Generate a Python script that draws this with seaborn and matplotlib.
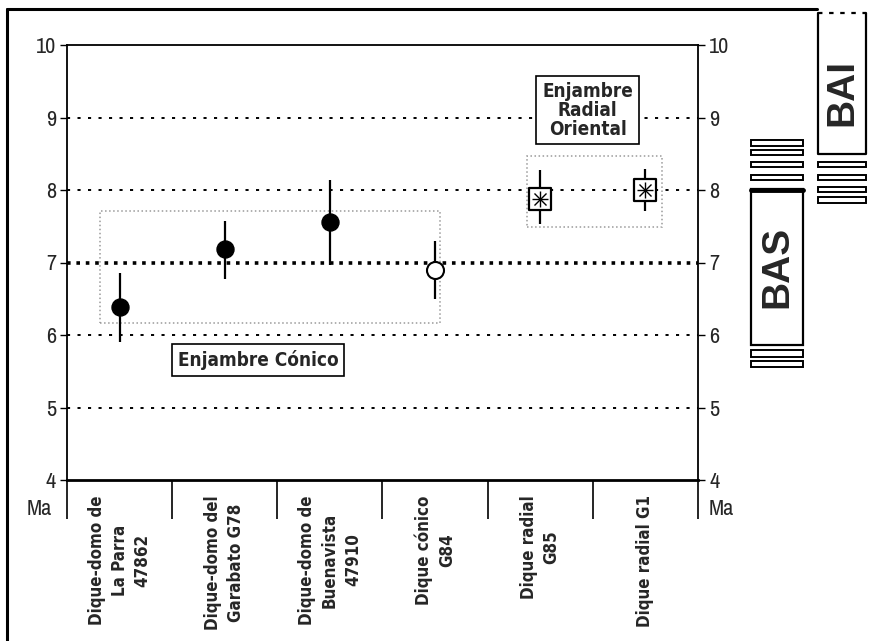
import numpy as np
import pandas as pd
import matplotlib
matplotlib.use("Agg")
import matplotlib.pyplot as plt
import seaborn as sns
import matplotlib.font_manager as fm
from matplotlib.patches import Rectangle
from matplotlib.lines import Line2D

# datos (edad en Ma)
categorias = ["Dique-domo de\nLa Parra\n47862", "Dique-domo del\nGarabato G78",
              "Dique-domo de\nBuenavista\n47910", "Dique cónico\nG84",
              "Dique radial\nG85", "Dique radial G1"]
edad_ma = [6.38, 7.19, 7.56, 6.90, 7.88, 8.00]
error_min = [5.90, 6.77, 6.97, 6.50, 7.53, 7.71]
error_max = [6.86, 7.57, 8.14, 7.30, 8.28, 8.29]
grupo = ["domo", "domo", "domo", "conico", "radial", "radial"]
ticks_y = [4, 5, 6, 7, 8, 9, 10]

df = pd.DataFrame({"pos": np.arange(len(categorias)), "edad": edad_ma,
                   "lo": error_min, "hi": error_max, "grupo": grupo})

sns.set_style("white")
plt.rcParams['font.family'] = ['Archivo Narrow', 'Liberation Sans', 'DejaVu Sans']

# fuente estrecha en negrita para los rotulos (DejaVu Sans Condensed Bold)
ruta = None
for f in fm.fontManager.ttflist:
    if f.name == 'DejaVu Sans' and f.stretch == 'condensed' and f.weight in (700, 'bold') \
            and f.style == 'normal':
        ruta = f.fname
        break
if ruta:
    fuente_cat = fm.FontProperties(fname=ruta, size=12.2)
    fuente_caja = fm.FontProperties(fname=ruta, size=13.6)
else:
    fuente_cat = fm.FontProperties(family=['DejaVu Sans'], weight='bold', size=11.5)
    fuente_caja = fm.FontProperties(family=['DejaVu Sans'], weight='bold', size=13)

W, H = 873, 641
fig = plt.figure(figsize=(W / 100, H / 100), dpi=100)
ax = fig.add_axes([67 / W, 1 - 480 / H, (698 - 67) / W, (480 - 45) / H])

# lineas de puntos horizontales
for v in ticks_y[1:-1]:
    if v == 7:
        ax.axhline(v, color='black', lw=2.6, ls=(0, (1.0, 1.6)), zorder=1)
    else:
        ax.axhline(v, color='black', lw=1.4, ls=(0, (1.6, 3.8)), zorder=1)

# recuadros punteados de los enjambres
ax.add_patch(Rectangle((-0.19, 6.17), 3.24, 1.54, fill=False, ec='#9a9a9a', ls=':', lw=1.1, zorder=1))
ax.add_patch(Rectangle((3.87, 7.49), 1.29, 0.98, fill=False, ec='#9a9a9a', ls=':', lw=1.1, zorder=1))

# barras de error
ax.vlines(df["pos"], df["lo"], df["hi"], color='black', lw=1.6, zorder=2)

domo = df[df["grupo"] == "domo"]
conico = df[df["grupo"] == "conico"]
radial = df[df["grupo"] == "radial"]

sns.scatterplot(data=domo, x="pos", y="edad", ax=ax, marker='o', s=150,
                color='black', edgecolor='black', zorder=3, legend=False)
sns.scatterplot(data=conico, x="pos", y="edad", ax=ax, marker='o', s=150,
                color='white', edgecolor='black', linewidth=1.5, zorder=3, legend=False)
sns.scatterplot(data=radial, x="pos", y="edad", ax=ax, marker='s', s=260,
                color='white', edgecolor='black', linewidth=1.6, zorder=3, legend=False)
sns.scatterplot(data=radial, x="pos", y="edad", ax=ax, marker='+', s=120,
                color='black', linewidth=1.0, zorder=4, legend=False)
sns.scatterplot(data=radial, x="pos", y="edad", ax=ax, marker='x', s=75,
                color='black', linewidth=1.0, zorder=4, legend=False)

ax.set_xlim(-0.5, 5.5)
ax.set_ylim(4, 10)
ax.set_xlabel("")
ax.set_ylabel("")

# separadores largos entre categorias y etiquetas centradas
ax.set_xticks(np.arange(-0.5, len(categorias), 1))
ax.set_xticklabels([])
ax.tick_params(axis='x', which='major', bottom=True, length=28, width=1.2,
               direction='out', color='black')
ax.set_xticks(df["pos"], minor=True)
ax.set_xticklabels(categorias, minor=True, rotation=90, va='top', ha='center',
                   fontproperties=fuente_cat, linespacing=1.35)
ax.tick_params(axis='x', which='minor', bottom=True, length=0, pad=11)

ax.set_yticks(ticks_y)
ax.tick_params(axis='y', left=True, right=True, labelleft=True, labelright=True,
               length=5, width=1, direction='out', labelsize=16, pad=3, color='black')

for s in ax.spines.values():
    s.set_visible(True)
    s.set_color('black')
    s.set_linewidth(1.3)
ax.spines['bottom'].set_linewidth(2)

ax.annotate("Ma", xy=(0, 4), xycoords=('axes fraction', 'data'), xytext=(-11, -14),
            textcoords='offset points', ha='right', va='top', fontsize=16)
ax.annotate("Ma", xy=(1, 4), xycoords=('axes fraction', 'data'), xytext=(8, -14),
            textcoords='offset points', ha='left', va='top', fontsize=16)

caja = dict(boxstyle='square,pad=0.3', fc='white', ec='black', lw=1.2)
ax.text(1.32, 5.655, "Enjambre Cónico", ha='center', va='center',
        fontproperties=fuente_caja, bbox=caja, zorder=5)
ax.text(4.45, 9.10, "Enjambre\nRadial\nOriental", ha='center', va='center',
        fontproperties=fuente_caja, linespacing=1.0, bbox=caja, zorder=5)


# elementos fuera del grafico (en pixeles de la figura)
def caja_px(x0, y0, x1, y1, **kw):
    return Rectangle((x0 / W, 1 - y1 / H), (x1 - x0) / W, (y1 - y0) / H,
                     transform=fig.transFigure, **kw)


def linea_px(xs, ys, **kw):
    return Line2D([x / W for x in xs], [1 - y / H for y in ys],
                  transform=fig.transFigure, **kw)


fig.add_artist(linea_px([7, 7], [9, H], color='black', lw=2.2))
fig.add_artist(linea_px([7, 817], [9, 9], color='black', lw=2.2))

# BAS
fig.add_artist(caja_px(751, 189, 803, 345, fill=False, ec='black', lw=1.6))
fig.add_artist(linea_px([751, 803], [190, 190], color='black', lw=3.5))
for y0, y1 in [(140, 146), (150, 155), (162, 167), (175, 180), (350, 357), (361, 367)]:
    fig.add_artist(caja_px(751, y0, 803, y1, fill=False, ec='black', lw=1.4))
fig.text(777 / W, 1 - 267 / H, "BAS", rotation=90, ha='center', va='center',
         fontsize=28, fontweight='bold', family=['Liberation Sans', 'DejaVu Sans'])

# BAI
fig.add_artist(linea_px([818, 818, 866, 866], [13, 154, 154, 13], color='black', lw=1.6))
fig.add_artist(linea_px([818, 866], [13, 13], color='black', lw=1.6, ls=(0, (2, 3))))
for y0, y1 in [(162, 167), (175, 180), (187, 192), (197, 203)]:
    fig.add_artist(caja_px(818, y0, 866, y1, fill=False, ec='black', lw=1.4))
fig.text(842 / W, 1 - 93 / H, "BAI", rotation=90, ha='center', va='center',
         fontsize=28, fontweight='bold', family=['Liberation Sans', 'DejaVu Sans'])

fig.savefig("out.png", dpi=100)
